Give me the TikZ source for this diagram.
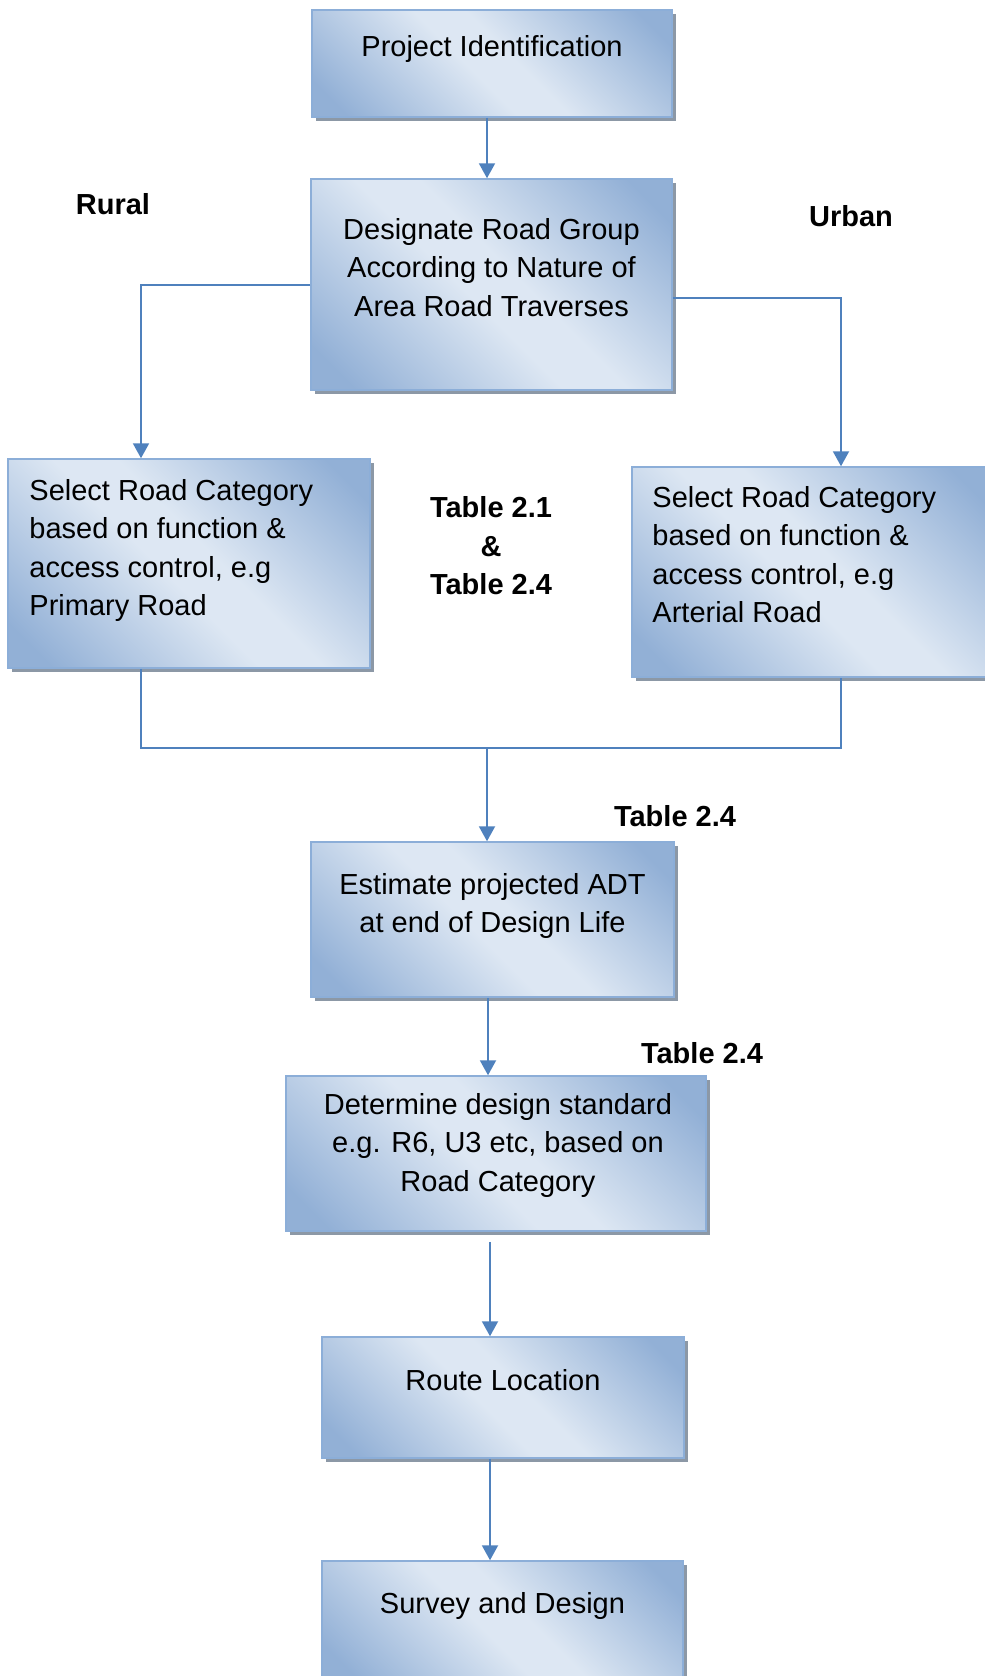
\documentclass[tikz,border=0pt]{standalone}
\usepackage{fontspec}
\setmainfont{Liberation Sans}
\usetikzlibrary{arrows.meta, positioning, shadows}
\definecolor{boxdark}{RGB}{146,176,214}
\definecolor{boxlight}{RGB}{221,231,243}
\definecolor{boxedge}{RGB}{140,174,216}
\definecolor{shadowgray}{RGB}{140,152,166}
\definecolor{linkblue}{RGB}{79,129,189}
\pgfdeclareverticalshading{boxshade}{100bp}{color(0bp)=(boxdark); color(20bp)=(boxdark); color(46bp)=(boxlight); color(54bp)=(boxlight); color(80bp)=(boxdark); color(100bp)=(boxdark)}
\newcommand{\flowfont}{\fontsize{29pt}{38.5pt}\selectfont}

\begin{document}
\begin{tikzpicture}[
  x=1pt, y=-1pt,
  box/.style={draw=boxedge, line width=1.5pt, inner sep=0pt, shade, shading=boxshade, shading angle=-45, drop shadow={shadow xshift=4pt, shadow yshift=-4pt, fill=shadowgray, opacity=1}},
  txt/.style={inner sep=0pt, font=\flowfont, align=center},
  ltxt/.style={inner sep=0pt, font=\flowfont, align=left},
  tag/.style={inner sep=0pt, font=\flowfont\bfseries, align=center},
  link/.style={draw=linkblue, line width=2pt},
  arr/.style={link, -{Triangle[width=16pt, length=15pt]}}
]
  \useasboundingbox (0,0) rectangle (985,1676);

  \node[box, minimum width=360pt, minimum height=107pt] (proj) at (492,63.5) {};
  \node[box, minimum width=361pt, minimum height=211pt] (group) at (491.5,284.5) {};
  \node[box, minimum width=362pt, minimum height=209pt] (selr) at (189,563.5) {};
  \node[box, minimum width=362pt, minimum height=210pt] (selu) at (813,572) {};
  \node[box, minimum width=363pt, minimum height=155pt] (adt) at (492.5,919.5) {};
  \node[box, minimum width=420pt, minimum height=155pt] (std) at (496,1153.5) {};
  \node[box, minimum width=362pt, minimum height=121pt] (route) at (503,1397.5) {};
  \node[box, minimum width=361pt, minimum height=120pt] (survey) at (502.5,1621) {};

  \node[txt, below=26pt of proj.north] (projtx) {Project Identification};
  \node[txt, below=40pt of group.north] (grouptx) {Designate Road Group\\According to Nature of\\Area Road Traverses};
  \node[ltxt, below right=21pt and 22pt of selr.north west] (selrtx) {Select Road Category\\based on function \&\\access control, e.g\\Primary Road};
  \node[ltxt, below right=20pt and 21pt of selu.north west] (selutx) {Select Road Category\\based on function \&\\access control, e.g\\Arterial Road};
  \node[txt, below=32pt of adt.north] (adttx) {Estimate projected ADT\\at end of Design Life};
  \node[txt, xshift=2pt, below=18pt of std.north] (stdtx) {Determine design standard\\e.g. R6, U3 etc, based on\\Road Category};
  \node[txt, below=33pt of route.north] (routetx) {Route Location};
  \node[txt, below=32pt of survey.north] (surveytx) {Survey and Design};

  \node[tag] (rural) at (113,204) {Rural};
  \node[tag] (urban) at (851,216) {Urban};
  \node[tag] (tabs) at (491,546) {Table 2.1\\\&\\Table 2.4};
  \node[tag] (tabadt) at (675,816) {Table 2.4};
  \node[tag] (tabstd) at (702,1053) {Table 2.4};

  \coordinate (join) at (487,748);
  \draw[arr] ([xshift=-5pt]proj.south) -- ([xshift=-4.5pt]group.north);
  \draw[arr] (group.west) -| ([xshift=-48pt]selr.north);
  \draw[arr] ([yshift=-13.5pt]group.east) -| ([xshift=28pt]selu.north);
  \draw[link] ([xshift=-48pt]selr.south) |- (join) -| ([xshift=28pt]selu.south);
  \draw[arr] (join) -- (join |- adt.north);
  \draw[arr] ([xshift=-4.5pt]adt.south) -- ([xshift=-8pt]std.north);
  \draw[arr] ([xshift=-6pt, yshift=-10pt]std.south) -- ([xshift=-13pt]route.north);
  \draw[arr] ([xshift=-13pt]route.south) -- ([xshift=-12.5pt]survey.north);
\end{tikzpicture}
\end{document}
